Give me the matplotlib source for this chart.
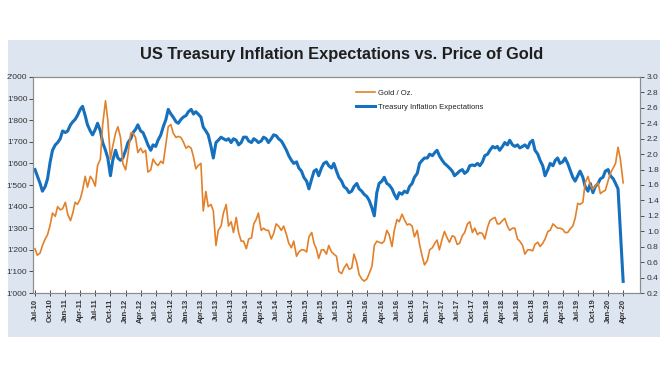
import matplotlib
matplotlib.use("Agg")
import matplotlib.pyplot as plt
import matplotlib.dates as mdates
import matplotlib.ticker as mticker
import pandas as pd
from matplotlib.patches import Rectangle

plt.rcParams['font.family'] = ['Liberation Sans', 'DejaVu Sans']

# semi-monthly observation dates (1st and 15th), Jul 2010 .. Apr 2020
dates = pd.date_range("2010-07-01", "2020-04-01", freq="SMS")

gold = [
    # 2010 Jul-Dec
    1205, 1175, 1185, 1220, 1250, 1270, 1315, 1370, 1355, 1400, 1385, 1390,
    # 2011
    1420, 1365, 1335, 1370, 1420, 1410, 1435, 1475, 1540, 1490, 1540, 1525,
    1495, 1590, 1620, 1780, 1890, 1800, 1620, 1680, 1740, 1770, 1720, 1600,
    # 2012
    1570, 1640, 1740, 1740, 1720, 1650, 1670, 1650, 1660, 1560, 1570, 1620,
    1600, 1590, 1610, 1600, 1690, 1770, 1780, 1740, 1720, 1725, 1720, 1700,
    # 2013
    1670, 1680, 1670, 1630, 1575, 1590, 1600, 1380, 1470, 1400, 1410, 1380,
    1220, 1290, 1310, 1370, 1410, 1310, 1330, 1280, 1350, 1280, 1240, 1240,
    # 2014
    1205, 1250, 1255, 1320, 1340, 1370, 1290, 1300, 1290, 1290, 1250, 1275,
    1320, 1310, 1290, 1310, 1270, 1230, 1210, 1240, 1170, 1190, 1200, 1200,
    # 2015
    1190, 1260, 1280, 1230, 1205, 1160, 1200, 1200, 1180, 1220, 1190, 1180,
    1170, 1100, 1090, 1115, 1135, 1110, 1115, 1180, 1140, 1085, 1065, 1055,
    # 2016
    1065, 1090, 1125, 1220, 1240, 1235, 1230, 1240, 1290, 1270, 1215, 1290,
    1340, 1330, 1365, 1340, 1315, 1320, 1310, 1260, 1290, 1225, 1170, 1130,
    # 2017
    1150, 1200, 1210, 1230, 1245, 1200, 1250, 1285, 1255, 1235, 1265, 1260,
    1225, 1230, 1265, 1280, 1320, 1330, 1280, 1300, 1270, 1280, 1275, 1250,
    # 2018
    1305, 1335, 1345, 1350, 1320, 1320, 1335, 1345, 1310, 1290, 1300, 1300,
    1250, 1240, 1220, 1180, 1200, 1200, 1195, 1225, 1235, 1215, 1230, 1250,
    # 2019
    1285, 1290, 1320, 1310, 1300, 1300, 1295, 1280, 1280, 1295, 1310, 1345,
    1415, 1410, 1420, 1510, 1540, 1500, 1480, 1495, 1510, 1460, 1470, 1475,
    # 2020 Jan-Mar, Apr 1
    1520, 1555, 1580, 1600, 1675, 1620, 1510,
]

tie = [
    # 2010 Jul-Dec
    1.80, 1.72, 1.62, 1.52, 1.58, 1.68, 1.90, 2.05, 2.12, 2.15, 2.20, 2.30,
    # 2011
    2.28, 2.30, 2.38, 2.42, 2.45, 2.50, 2.58, 2.62, 2.50, 2.38, 2.30, 2.25,
    2.32, 2.40, 2.30, 2.15, 2.05, 1.95, 1.72, 1.92, 2.05, 1.95, 1.92, 1.95,
    # 2012
    2.05, 2.15, 2.20, 2.28, 2.32, 2.38, 2.30, 2.28, 2.20, 2.12, 2.05, 2.12,
    2.10, 2.18, 2.25, 2.35, 2.45, 2.58, 2.52, 2.48, 2.42, 2.40, 2.45, 2.48,
    # 2013
    2.50, 2.55, 2.58, 2.52, 2.55, 2.52, 2.48, 2.35, 2.30, 2.25, 2.10, 1.95,
    2.15, 2.18, 2.22, 2.20, 2.18, 2.20, 2.15, 2.20, 2.18, 2.12, 2.15, 2.22,
    # 2014
    2.22, 2.17, 2.15, 2.20, 2.18, 2.15, 2.17, 2.22, 2.20, 2.15, 2.20, 2.25,
    2.24, 2.20, 2.17, 2.12, 2.05, 1.98, 1.92, 1.88, 1.90, 1.82, 1.78, 1.70,
    # 2015
    1.65, 1.55, 1.68, 1.78, 1.80, 1.72, 1.82, 1.88, 1.90, 1.85, 1.82, 1.88,
    1.78, 1.70, 1.65, 1.58, 1.55, 1.50, 1.52, 1.58, 1.62, 1.55, 1.52, 1.48,
    # 2016
    1.45, 1.40, 1.30, 1.20, 1.50, 1.62, 1.65, 1.70, 1.62, 1.60, 1.55, 1.48,
    1.42, 1.50, 1.48, 1.52, 1.50, 1.58, 1.62, 1.70, 1.75, 1.88, 1.92, 1.95,
    # 2017
    1.95, 2.00, 1.98, 2.02, 2.05, 1.98, 1.92, 1.88, 1.85, 1.82, 1.78, 1.72,
    1.75, 1.78, 1.80, 1.75, 1.78, 1.85, 1.86, 1.85, 1.88, 1.85, 1.90, 1.98,
    # 2018
    2.00, 2.05, 2.10, 2.08, 2.10, 2.05, 2.10, 2.15, 2.12, 2.18, 2.12, 2.10,
    2.12, 2.08, 2.10, 2.12, 2.08, 2.15, 2.18, 2.05, 2.00, 1.92, 1.85, 1.72,
    # 2019
    1.80, 1.88, 1.85, 1.92, 1.95, 1.88, 1.90, 1.95, 1.88, 1.80, 1.70, 1.65,
    1.72, 1.78, 1.70, 1.58, 1.52, 1.62, 1.50, 1.58, 1.62, 1.68, 1.70, 1.78,
    # 2020 Jan-Mar, Apr 1
    1.80, 1.72, 1.68, 1.62, 1.55, 1.00, 0.35,
]

tick_dates = pd.date_range("2010-07-01", "2020-04-01", freq="QS-JAN")

title = "US Treasury Inflation Expectations vs. Price of Gold"
gold_label = "Gold / Oz."
tie_label = "Treasury Inflation Expectations"

GOLD_C = "#E3802A"
BLUE_C = "#1570BE"
PANEL_C = "#DDE5F0"

fig = plt.figure(figsize=(6.7, 3.77), dpi=100)
fig.patch.set_facecolor("white")
fig.patches.append(Rectangle((8 / 670, 40 / 377), 652 / 670, 297 / 377,
                             transform=fig.transFigure, facecolor=PANEL_C,
                             edgecolor="none", zorder=-5))

ax = fig.add_axes([33 / 670, 84 / 377, 607 / 670, 216 / 377], zorder=2)
ax2 = ax.twinx()
ax2.set_zorder(1)
ax.patch.set_visible(False)
ax2.patch.set_facecolor("white")
ax2.patch.set_visible(True)

l1, = ax.plot(dates, gold, color=GOLD_C, lw=1.2, label=gold_label)
l2, = ax2.plot(dates, tie, color=BLUE_C, lw=2.2, label=tie_label)

ax.set_ylim(1000, 2000)
ax2.set_ylim(0.2, 3.0)
ax.set_xlim(pd.Timestamp("2010-06-19"), pd.Timestamp("2020-07-12"))

ax.yaxis.set_major_locator(mticker.MultipleLocator(100))
ax.yaxis.set_major_formatter(mticker.FuncFormatter(
    lambda v, p: f"{int(v)//1000}'{int(v)%1000:03d}"))
ax2.yaxis.set_major_locator(mticker.MultipleLocator(0.2))
ax2.yaxis.set_major_formatter(mticker.FormatStrFormatter("%.1f"))

ax.set_xticks(tick_dates)
ax.set_xticklabels([d.strftime("%b-%y") for d in tick_dates], rotation=90,
                   fontsize=5.5, color="#333333", fontweight="bold")

for a in (ax, ax2):
    for s in a.spines.values():
        s.set_color("#8C8C8C")
        s.set_linewidth(0.8)
ax.tick_params(axis="y", labelsize=6, colors="#333333", length=3, width=0.6,
               direction="out", pad=1)
ax2.tick_params(axis="y", labelsize=6, colors="#333333", length=3, width=0.6,
                direction="out", pad=2)
ax.tick_params(axis="x", length=4, width=0.6, direction="inout", pad=2,
               colors="#333333")

fig.text(342 / 670, 1 - 55 / 377, title, ha="center", va="center",
         fontsize=11.8, fontweight="bold", color="#1F1F1F")

leg = ax.legend(handles=[l1, l2], loc="upper left",
                bbox_to_anchor=(0.52, 0.975), frameon=False, fontsize=5.5,
                handlelength=2.5, handletextpad=0.5, labelspacing=0.9)
for t in leg.get_texts():
    t.set_color("#222222")

fig.savefig("out.png", dpi=100)
